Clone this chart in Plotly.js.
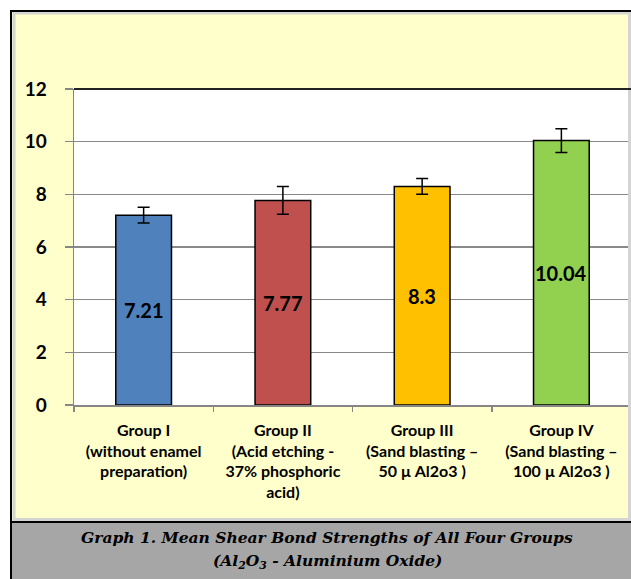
<!DOCTYPE html>
<html>
<head>
<meta charset="utf-8">
<script src="https://cdn.plot.ly/plotly-3.0.1.min.js"></script>
<style>
  html, body { margin: 0; padding: 0; background: #ffffff; }
  #chart { width: 631px; height: 579px; }
</style>
</head>
<body>
<div id="chart"></div>
<script>
// ---- data ----
const categories = [
  "Group I<br>(without enamel<br>preparation)",
  "Group II<br>(Acid etching -<br>37% phosphoric<br>acid)",
  "Group III<br>(Sand blasting –<br>50 µ Al2o3 )",
  "Group IV<br>(Sand blasting –<br>100 µ Al2o3 )"
];
const meanValues = [7.21, 7.77, 8.3, 10.04];
const errorValues = [0.3, 0.53, 0.3, 0.45];
const barColors = ["#4F81BD", "#C0504D", "#FFC000", "#92D050"];
const yTickValues = [0, 2, 4, 6, 8, 10, 12];
const captionLine1 = "Graph 1. Mean Shear Bond Strengths of All Four Groups";
const captionLine2 = "(Al<sub>2</sub>O<sub>3</sub> - Aluminium Oxide)";

// ---- layout helpers (pixel -> paper) ----
const W = 631, H = 579;
const ML = 74, MR = 0, MT = 89, MB = 174;
const PW = W - ML - MR, PH = H - MT - MB;
const px = x => (x - ML) / PW;
const py = y => (H - MB - y) / PH;

const trace = {
  type: "bar",
  x: categories,
  y: meanValues,
  width: 0.4,
  marker: { color: barColors, line: { color: "#000000", width: 1.5 } },
  error_y: { type: "data", array: errorValues, visible: true, color: "#000000", thickness: 1.5, width: 6 },
  hoverinfo: "none"
};

const annotations = meanValues.map((v, i) => ({
  x: categories[i], y: v / 2, xref: "x", yref: "y",
  text: String(v), showarrow: false,
  font: { family: "Lato, 'Open Sans', sans-serif", size: 20, color: "#000000", weight: "bold" }
}));
annotations.push({
  x: px(327), y: py(537), xref: "paper", yref: "paper", xanchor: "center", yanchor: "middle",
  text: captionLine1, showarrow: false,
  font: { family: "'DejaVu Serif', serif", size: 15.5, color: "#000000", weight: "bold", style: "italic" }
});
annotations.push({
  x: px(327), y: py(561), xref: "paper", yref: "paper", xanchor: "center", yanchor: "middle",
  text: captionLine2, showarrow: false,
  font: { family: "'DejaVu Serif', serif", size: 15.5, color: "#000000", weight: "bold", style: "italic" }
});

const shapes = [
  // white outer margins
  { type: "rect", xref: "paper", yref: "paper", x0: px(0), x1: px(W), y0: py(0), y1: py(10), fillcolor: "#ffffff", line: { width: 0 } },
  { type: "rect", xref: "paper", yref: "paper", x0: px(0), x1: px(10), y0: py(0), y1: py(H), fillcolor: "#ffffff", line: { width: 0 } },
  // light gray inner border of chart area
  { type: "rect", xref: "paper", yref: "paper", x0: px(14), x1: px(629.5), y0: py(13), y1: py(519.5), fillcolor: "rgba(0,0,0,0)", line: { color: "#d4d4d4", width: 3 } },
  // caption box
  { type: "rect", xref: "paper", yref: "paper", x0: px(11), x1: px(W + 2), y0: py(522), y1: py(H + 2), fillcolor: "#A6A6A6", line: { width: 0 } },
  { type: "line", xref: "paper", yref: "paper", x0: px(11), x1: px(W), y0: py(522), y1: py(522), line: { color: "#000000", width: 2 } },
  // outer black border
  { type: "line", xref: "paper", yref: "paper", x0: px(11), x1: px(11), y0: py(10), y1: py(H), line: { color: "#000000", width: 2 } },
  { type: "line", xref: "paper", yref: "paper", x0: px(10), x1: px(W), y0: py(11), y1: py(11), line: { color: "#000000", width: 2 } },
  // plot area top border
  { type: "line", xref: "paper", yref: "paper", x0: 0, x1: 1, y0: 1, y1: 1, line: { color: "#222222", width: 2 } }
];

const layout = {
  width: W, height: H,
  margin: { l: ML, r: MR, t: MT, b: MB, pad: 0 },
  paper_bgcolor: "#FFFFCC",
  plot_bgcolor: "#FFFFFF",
  showlegend: false,
  bargap: 0.6,
  xaxis: {
    type: "category",
    range: [-0.5, 3.5],
    showline: true, linecolor: "#868686", linewidth: 1.5,
    ticks: "outside", tickson: "boundaries", ticklen: 5, tickcolor: "#868686", tickwidth: 1.5,
    showgrid: false, zeroline: false,
    tickfont: { family: "Lato, 'Open Sans', sans-serif", size: 16, color: "#000000", weight: "bold" },
    ticklabelstandoff: 10,
    fixedrange: true
  },
  yaxis: {
    range: [0, 12],
    tickvals: yTickValues,
    ticktext: yTickValues.map(String),
    showline: true, linecolor: "#868686", linewidth: 1.5,
    ticks: "outside", ticklen: 8, tickcolor: "#868686", tickwidth: 1.5,
    showgrid: true, gridcolor: "#898989", gridwidth: 1.5,
    zeroline: false,
    tickfont: { family: "Lato, 'Open Sans', sans-serif", size: 19, color: "#000000", weight: "bold" },
    ticklabelstandoff: 14,
    fixedrange: true
  },
  shapes: shapes,
  annotations: annotations
};

Plotly.newPlot("chart", [trace], layout, { displayModeBar: false, staticPlot: true });
</script>
</body>
</html>
